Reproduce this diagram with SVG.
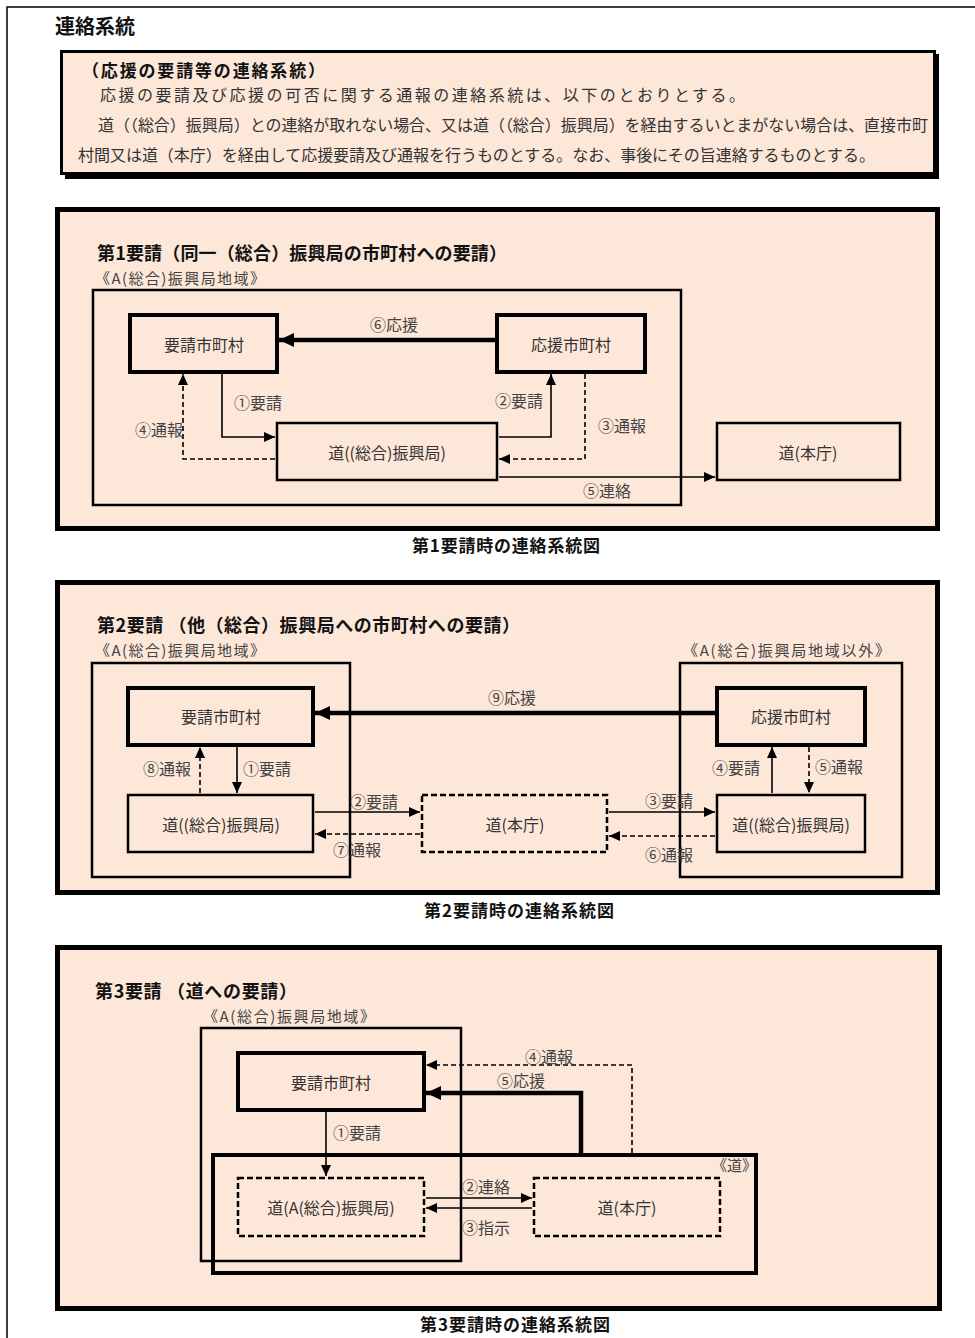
<svg xmlns="http://www.w3.org/2000/svg" width="975" height="1338" viewBox="0 0 975 1338">
<defs>
<style>
text{font-family:'Noto Sans CJK JP','Noto Sans CJK SC',sans-serif;fill:#222}
.h{font-weight:bold;fill:#111}
.body{font-size:16px;fill:#333}
.nl{font-size:16px;text-anchor:middle;dominant-baseline:central;fill:#333}
.lb{font-size:16px;fill:#444}
.rg{font-size:15px;fill:#444}
.cap{font-weight:bold;fill:#111;font-size:17px}
.panel{fill:#fde7d9;stroke:#000;stroke-width:5}
.region{fill:none;stroke:#000;stroke-width:2.5}
.thick{fill:#fde7d9;stroke:#000;stroke-width:4}
.thin{fill:#fde7d9;stroke:#000;stroke-width:2.5}
.dbox{fill:#fde7d9;stroke:#000;stroke-width:2.5;stroke-dasharray:6 3}
.c{fill:none;stroke:#000;stroke-width:1.6;marker-end:url(#ah)}
.cd{fill:none;stroke:#000;stroke-width:1.6;stroke-dasharray:5 3;marker-end:url(#ah)}
.cb{fill:none;stroke:#000;stroke-width:4.5;marker-end:url(#ahb)}
</style>
<marker id="ah" markerUnits="userSpaceOnUse" markerWidth="11" markerHeight="10" refX="11" refY="5" orient="auto"><path d="M0,0 L11,5 L0,10 z" fill="#000"/></marker>
<marker id="ahb" markerUnits="userSpaceOnUse" markerWidth="15" markerHeight="14" refX="15" refY="7" orient="auto"><path d="M0,0 L15,7 L0,14 z" fill="#000"/></marker>
</defs>
<rect x="0" y="0" width="975" height="1338" fill="#fff"/>
<rect x="7" y="7" width="980" height="1345" fill="none" stroke="#000" stroke-width="1.5"/>
<text x="55" y="34" class="h" font-size="20">連絡系統</text>

<g id="header">
<rect x="65" y="54" width="874" height="125" fill="#000"/>
<rect x="61.5" y="51.5" width="873" height="122" fill="#fde7d9" stroke="#000" stroke-width="3"/>
<text x="82" y="77" class="h" font-size="17" textLength="243">（応援の要請等の連絡系統）</text>
<text x="100" y="101" class="body" textLength="645">応援の要請及び応援の可否に関する通報の連絡系統は、以下のとおりとする。</text>
<text x="98" y="131" class="body" textLength="830">道（（総合）振興局）との連絡が取れない場合、又は道（（総合）振興局）を経由するいとまがない場合は、直接市町</text>
<text x="78" y="161" class="body" textLength="797">村間又は道（本庁）を経由して応援要請及び通報を行うものとする。なお、事後にその旨連絡するものとする。</text>
</g>

<!-- Panel 1 -->
<g id="panel1">
<rect x="57.5" y="209.5" width="880" height="319" class="panel"/>
<text x="97" y="260" class="h" font-size="18" textLength="410">第1要請（同一（総合）振興局の市町村への要請）</text>
<text x="95" y="284" class="rg" textLength="170">《A(総合)振興局地域》</text>
<rect x="93" y="290" width="588" height="215" class="region"/>
</g>
<g id="p1-youseishi"><rect x="130" y="315" width="147" height="57" class="thick"/><text x="204" y="344" class="nl">要請市町村</text></g>
<g id="p1-ouenshi"><rect x="497" y="315" width="148" height="57" class="thick"/><text x="571" y="344" class="nl">応援市町村</text></g>
<g id="p1-shinkou"><rect x="277" y="423" width="220" height="57" class="thin"/><text x="387" y="452" class="nl">道((総合)振興局)</text></g>
<g id="p1-honcho"><rect x="717" y="423" width="183" height="57" class="thin"/><text x="808" y="452" class="nl">道(本庁)</text></g>
<g id="p1-connectors">
<path d="M495,340 H279" class="cb"/>
<path d="M222,374 V437 H275" class="c"/>
<path d="M275,459 H183 V374" class="cd"/>
<path d="M499,437 H551 V374" class="c"/>
<path d="M585,374 V459 H499" class="cd"/>
<path d="M499,477 H715" class="c"/>
<text x="370" y="331" class="lb">⑥応援</text>
<text x="234" y="409" class="lb">①要請</text>
<text x="135" y="436" class="lb">④通報</text>
<text x="495" y="407" class="lb">②要請</text>
<text x="598" y="432" class="lb">③通報</text>
<text x="583" y="497" class="lb">⑤連絡</text>
</g>
<text x="412" y="552" class="cap" textLength="188">第1要請時の連絡系統図</text>

<!-- Panel 2 -->
<g id="panel2">
<rect x="57.5" y="582.5" width="880" height="310" class="panel"/>
<text x="97" y="632" class="h" font-size="18" textLength="423">第2要請 （他（総合）振興局への市町村への要請）</text>
<text x="95" y="656" class="rg" textLength="170">《A(総合)振興局地域》</text>
<text x="683" y="656" class="rg" textLength="207">《A(総合)振興局地域以外》</text>
<rect x="92" y="663" width="258" height="214" class="region"/>
<rect x="680" y="663" width="222" height="214" class="region"/>
</g>
<g id="p2-youseishi"><rect x="128" y="688" width="185" height="57" class="thick"/><text x="221" y="716" class="nl">要請市町村</text></g>
<g id="p2-shinkouL"><rect x="128" y="795" width="185" height="57" class="thin"/><text x="221" y="824" class="nl">道((総合)振興局)</text></g>
<g id="p2-honcho"><rect x="422" y="795" width="185" height="57" class="dbox"/><text x="515" y="824" class="nl">道(本庁)</text></g>
<g id="p2-ouenshi"><rect x="717" y="688" width="148" height="57" class="thick"/><text x="791" y="716" class="nl">応援市町村</text></g>
<g id="p2-shinkouR"><rect x="717" y="795" width="148" height="57" class="thin"/><text x="791" y="824" class="nl">道((総合)振興局)</text></g>
<g id="p2-connectors">
<path d="M715,713 H315" class="cb"/>
<path d="M237,747 V793" class="c"/>
<path d="M200,793 V747" class="cd"/>
<path d="M315,812 H420" class="c"/>
<path d="M420,834 H315" class="cd"/>
<path d="M609,812 H715" class="c"/>
<path d="M715,836 H609" class="cd"/>
<path d="M772,793 V747" class="c"/>
<path d="M809,747 V793" class="cd"/>
<text x="488" y="704" class="lb">⑨応援</text>
<text x="243" y="775" class="lb">①要請</text>
<text x="143" y="775" class="lb">⑧通報</text>
<text x="350" y="808" class="lb">②要請</text>
<text x="333" y="856" class="lb">⑦通報</text>
<text x="645" y="807" class="lb">③要請</text>
<text x="645" y="861" class="lb">⑥通報</text>
<text x="712" y="774" class="lb">④要請</text>
<text x="815" y="773" class="lb">⑤通報</text>
</g>
<text x="424" y="917" class="cap" textLength="190">第2要請時の連絡系統図</text>

<!-- Panel 3 -->
<g id="panel3">
<rect x="57.5" y="947.5" width="882" height="361" class="panel"/>
<text x="95" y="998" class="h" font-size="18" textLength="202">第3要請 （道への要請）</text>
<text x="203" y="1022" class="rg" textLength="172">《A(総合)振興局地域》</text>
<rect x="201" y="1028" width="260" height="233" class="region"/>
<rect x="213" y="1155" width="543" height="118" fill="none" stroke="#000" stroke-width="4"/>
<text x="712" y="1171" class="rg">《道》</text>
</g>
<g id="p3-youseishi"><rect x="238" y="1053" width="186" height="57" class="thick"/><text x="331" y="1082" class="nl">要請市町村</text></g>
<g id="p3-shinkou"><rect x="238" y="1178" width="186" height="58" class="dbox"/><text x="331" y="1207" class="nl">道(A(総合)振興局)</text></g>
<g id="p3-honcho"><rect x="534" y="1178" width="186" height="58" class="dbox"/><text x="627" y="1207" class="nl">道(本庁)</text></g>
<g id="p3-connectors">
<path d="M326,1112 V1176" class="c"/>
<path d="M632,1153 V1065 H426" class="cd"/>
<path d="M581,1153 V1093 H426" class="cb"/>
<path d="M426,1198 H532" class="c"/>
<path d="M532,1208 H426" class="c"/>
<text x="333" y="1139" class="lb">①要請</text>
<text x="525" y="1063" class="lb">④通報</text>
<text x="497" y="1087" class="lb">⑤応援</text>
<text x="462" y="1193" class="lb">②連絡</text>
<text x="462" y="1234" class="lb">③指示</text>
</g>
<text x="420" y="1331" class="cap" textLength="190">第3要請時の連絡系統図</text>
</svg>
